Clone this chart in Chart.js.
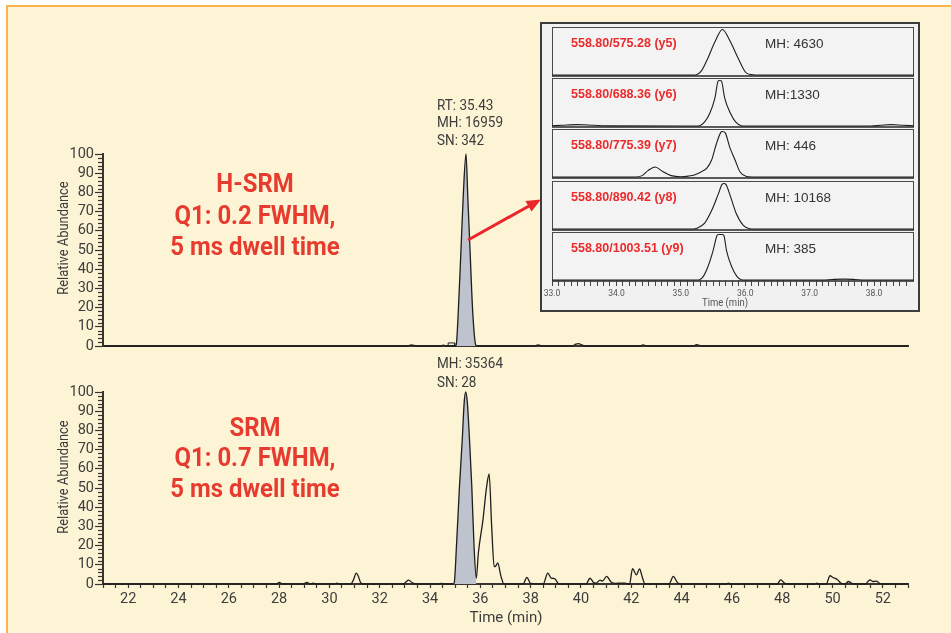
<!DOCTYPE html>
<html><head><meta charset="utf-8">
<script src="https://cdn.jsdelivr.net/npm/chart.js@4.4.1/dist/chart.umd.min.js"></script>
<style>
html,body{margin:0;padding:0;background:#fff;}
#root{position:relative;width:951px;height:633px;overflow:hidden;background:#fff;}
#frame{position:absolute;left:6px;top:5px;right:0;bottom:0;background:#fdf3d5;border-left:2px solid #f9b54c;border-top:2px solid #f9b54c;}
canvas{position:absolute;}
.t{position:absolute;white-space:nowrap;font-family:Roboto,'Liberation Sans',sans-serif;color:#3d3d3d;line-height:1;}
.red{color:#e63b2e;font-weight:bold;font-size:26px;transform:translate(-50%,-50%) scaleX(0.92);}
.ann{font-size:15px;transform-origin:0 50%;transform:translateY(-50%) scaleX(0.9);}
.rot{font-size:15px;transform:translate(-50%,-50%) rotate(-90deg) scaleX(0.86);}
.panel{position:absolute;left:552px;width:362px;height:50px;box-sizing:border-box;border:1px solid #4a4a4a;border-bottom:2px solid #5a5a5a;background:#f3f3f4;}
.plab{position:absolute;font-family:'Liberation Sans',Arial,sans-serif;font-weight:bold;font-size:12.5px;color:#ec2a2a;transform:translateY(-50%);white-space:nowrap;}
.pmh{position:absolute;font-family:'Liberation Sans',Arial,sans-serif;font-size:13.5px;color:#333;transform:translateY(-50%);white-space:nowrap;}
</style></head>
<body>
<div id="root">
  <div id="frame"></div>
  <canvas id="cTop" width="951" height="230" style="left:0;top:130px;"></canvas>
  <canvas id="cBot" width="951" height="253" style="left:0;top:380px;"></canvas>
  <div style="position:absolute;left:540px;top:22px;width:380px;height:290px;box-sizing:border-box;background:#f1f1f2;border:2px solid #3c3c3c;"></div>
  <div id="insetHolder"></div>
  <div class="t rot" style="left:63px;top:238px;">Relative Abundance</div>
  <div class="t rot" style="left:63px;top:477px;">Relative Abundance</div>
  <div class="t red" style="left:255px;top:183px;">H-SRM</div>
  <div class="t red" style="left:255px;top:215px;">Q1: 0.2 FWHM,</div>
  <div class="t red" style="left:255px;top:246px;">5 ms dwell time</div>
  <div class="t red" style="left:255px;top:427px;">SRM</div>
  <div class="t red" style="left:255px;top:457px;">Q1: 0.7 FWHM,</div>
  <div class="t red" style="left:255px;top:488px;">5 ms dwell time</div>
  <div class="t ann" style="left:437px;top:105px;">RT: 35.43</div>
  <div class="t ann" style="left:437px;top:122px;">MH: 16959</div>
  <div class="t ann" style="left:437px;top:140px;">SN: 342</div>
  <div class="t ann" style="left:437px;top:363px;">MH: 35364</div>
  <div class="t ann" style="left:437px;top:382px;">SN: 28</div>
  <div class="t" style="left:506px;top:617px;font-size:15px;transform:translate(-50%,-50%);">Time (min)</div>
  <div class="t" style="left:725px;top:303px;font-size:10.5px;color:#555;transform:translate(-50%,-50%) scaleX(0.9);">Time (min)</div>
  <svg width="951" height="633" style="position:absolute;left:0;top:0;pointer-events:none;">
    <line x1="468" y1="240" x2="529" y2="206" stroke="#e8262b" stroke-width="3"/>
    <polygon points="541,199.5 531.5,211.5 525.5,201" fill="#e8262b"/>
  </svg>
</div>
<script>
// ---------- data ----------
const xTickLabels = [22, 24, 26, 28, 30, 32, 34, 36, 38, 40, 42, 44, 46, 48, 50, 52];
const yTickLabels = [0, 10, 20, 30, 40, 50, 60, 70, 80, 90, 100];
const insetTickLabels = [33.0, 34.0, 35.0, 36.0, 37.0, 38.0];

// H-SRM trace (time, relative abundance)
const hsrmTime = [21, 33.1, 33.27, 33.45, 34.4, 34.53, 34.65, 35.0, 35.04, 35.12,
  35.23, 35.32, 35.43, 35.50, 35.59, 35.70, 35.82, 35.9,
  38.15, 38.3, 38.45, 39.65, 39.8, 39.9, 40.05, 40.15,
  42.35, 42.47, 42.6, 44.45, 44.6, 44.8, 53];
const hsrmAbund = [0, 0, 0.6, 0, 0, 0.5, 0, 0, 0.5, 17,
  50, 78, 100, 78, 50, 17, 0.5, 0,
  0, 0.6, 0, 0, 1.0, 1.2, 0.5, 0,
  0, 0.6, 0, 0, 0.7, 0, 0];
const hsrmPeakWindow = [35.0, 35.9];
const hsrmMarkTime = [34.72, 34.72, 34.98, 34.98];
const hsrmMarkAbund = [0, 1.6, 1.6, 0];

// SRM trace
const srmTime = [
  21, 27.9, 28.0, 28.15, 28.95, 29.1, 29.25, 29.35, 29.5,
  30.2, 30.3, 30.4,
  30.85, 30.95, 31.07, 31.15, 31.25, 31.35,
  32.95, 33.05, 33.15, 33.3, 33.45,
  34.35, 34.45, 34.55,
  34.9, 34.96, 35.05, 35.17, 35.28, 35.36, 35.42, 35.48, 35.57, 35.66, 35.75, 35.84,
  35.92, 36.1, 36.25, 36.35, 36.45, 36.55, 36.62, 36.69, 36.82, 36.94,
  37.7, 37.85, 38.0,
  38.5, 38.68, 38.82, 38.95, 39.1, 39.2,
  40.2, 40.36, 40.5, 40.6, 40.76, 40.85, 41.02, 41.2, 41.35, 41.6, 41.75,
  41.93, 42.05, 42.2, 42.33, 42.45, 42.55,
  43.5, 43.67, 43.85, 44.0,
  45.78, 45.86, 45.95,
  47.8, 47.94, 48.1, 48.2,
  49.3, 49.37, 49.45,
  49.75, 49.9, 50.0, 50.2, 50.35, 50.5, 50.63, 50.75, 50.85,
  51.3, 51.49, 51.6, 51.75, 51.85, 51.95, 53];
const srmAbund = [
  0, 0, 0.8, 0, 0, 0.8, 0, 0.5, 0,
  0, 0.4, 0,
  0, 2, 5.7, 4, 0.5, 0,
  0, 1.2, 2, 0.6, 0,
  0, 0.3, 0,
  0, 0.5, 19.5, 50.7, 75, 95, 100, 95, 75, 50.7, 19.5, 3,
  16, 33, 50.7, 57.3, 30, 9, 9.5, 11, 4, 0,
  0, 3.4, 0.3,
  0, 5.7, 3, 2.8, 0.3, 0,
  0, 3, 0.8, 0.5, 2, 1.5, 4, 1, 0.3, 0.5, 0.5,
  0, 8, 4.8, 7.8, 3, 0,
  0, 4, 0.5, 0,
  0, 0.5, 0,
  0, 2.2, 0.3, 0,
  0, 0.4, 0,
  0, 4.3, 3.5, 2.2, 0.3, 0, 1.3, 0.5, 0,
  0, 2.2, 1.3, 1.5, 0.5, 0, 0];
const srmPeakWindow = [34.9, 35.84];

// Inset transitions
const insetLabels = ['558.80/575.28 (y5)', '558.80/688.36 (y6)', '558.80/775.39 (y7)', '558.80/890.42 (y8)', '558.80/1003.51 (y9)'];
const insetMH = ['MH: 4630', 'MH:1330', 'MH: 446', 'MH: 10168', 'MH: 385'];
const y5Time = [33.0, 35.2, 35.24, 35.32, 35.42, 35.53, 35.645, 35.77, 35.89, 36.02, 36.12, 36.2, 38.62];
const y5Abund = [0, 0, 0.5, 9, 37, 73, 100, 73, 37, 4, 0.5, 0, 0];
const y6Time = [33.0, 33.15, 33.4, 33.65, 33.9, 35.25, 35.29, 35.37, 35.45, 35.53, 35.58, 35.605, 35.63, 35.68, 35.77, 35.85, 35.94, 36.0, 37.95, 38.1, 38.27, 38.45, 38.62];
const y6Abund = [0.5, 1.5, 3, 1.5, 0.3, 0, 0.5, 9, 28, 62, 99, 100, 99, 62, 28, 9, 0.5, 0, 0, 1.5, 3, 1.5, 0.5];
const y7Time = [33.0, 34.3, 34.4, 34.49, 34.6, 34.72, 34.85, 35.0, 35.12, 35.22, 35.32, 35.40, 35.48, 35.55, 35.62, 35.645, 35.69, 35.76, 35.84, 35.92, 36.02, 36.1, 38.62];
const y7Abund = [0, 0, 3, 14, 22, 12, 3, 0.5, 2, 5, 11.6, 19, 38, 72, 98, 100, 97, 65, 38, 11, 1, 0, 0];
const y8Time = [33.0, 35.2, 35.24, 35.37, 35.48, 35.58, 35.64, 35.67, 35.7, 35.76, 35.86, 35.97, 36.07, 36.15, 38.62];
const y8Abund = [0, 0, 1, 13, 41, 76, 98, 100, 98, 76, 34, 8, 0.5, 0, 0];
const y9Time = [33.0, 35.25, 35.29, 35.35, 35.42, 35.50, 35.56, 35.58, 35.645, 35.67, 35.71, 35.79, 35.87, 35.94, 36.0, 37.2, 37.35, 37.52, 37.7, 37.85, 38.62];
const y9Abund = [0, 0, 0.5, 8, 29, 64, 97, 100, 100, 97, 64, 29, 8, 0.5, 0, 0, 1.2, 2, 1.2, 0, 0];

// ---------- drawing ----------
const ROBOTO = "Roboto,'Liberation Sans',sans-serif";
Chart.defaults.font.family = ROBOTO;
Chart.defaults.color = '#3d3d3d';
const AX = '#3a3431';

function pts(T, Y) { return T.map((t, i) => ({ x: t, y: Y[i] })); }

const minorY = {
  id: 'minorY',
  afterDraw(chart) {
    const y = chart.scales.y, ctx = chart.ctx, x0 = chart.chartArea.left;
    ctx.save(); ctx.strokeStyle = AX; ctx.lineWidth = 1.2;
    for (let v = 2; v < 100; v += 2) {
      if (v % 10 === 0) continue;
      const py = Math.round(y.getPixelForValue(v)) + 0.5;
      ctx.beginPath(); ctx.moveTo(x0 - 5, py); ctx.lineTo(x0, py); ctx.stroke();
    }
    ctx.restore();
  }
};

function mainChart(id, T, Y, win, mark, showX, pad) {
  const trace = pts(T, Y);
  const area = trace.filter(p => p.x >= win[0] && p.x <= win[1]);
  const datasets = [
    { data: area, fill: 'origin', backgroundColor: '#bfc3cd', borderWidth: 0, pointRadius: 0, cubicInterpolationMode: 'monotone', order: 3, clip: false },
    { data: trace, fill: false, borderColor: '#1e1e1e', borderWidth: 1.3, pointRadius: 0, cubicInterpolationMode: 'monotone', order: 1, clip: false }
  ];
  if (mark) datasets.push({ data: pts(mark[0], mark[1]), fill: false, borderColor: '#1e1e1e', borderWidth: 1, pointRadius: 0, tension: 0, order: 2, clip: false });
  return new Chart(document.getElementById(id), {
    type: 'line',
    data: { datasets },
    options: {
      responsive: false, animation: false, events: [],
      layout: { padding: pad },
      plugins: { legend: { display: false }, tooltip: { enabled: false } },
      scales: {
        x: {
          type: 'linear', min: 21, max: 53,
          afterFit: s => { s.height = showX ? 30 : 0; },
          ticks: { display: showX, stepSize: 0.5, autoSkip: false, maxRotation: 0, minRotation: 0, padding: 3,
                   font: { size: 14.5 }, color: '#3d3d3d',
                   callback: v => xTickLabels.includes(v) ? String(v) : '' },
          grid: { drawOnChartArea: false, drawTicks: showX, tickLength: 4, tickColor: AX, tickWidth: 1.2 },
          border: { display: true, color: AX, width: 2 }
        },
        y: {
          min: 0, max: 100,
          afterFit: s => { s.width = 103; },
          afterBuildTicks: s => { s.ticks = yTickLabels.map(v => ({ value: v })); },
          ticks: { autoSkip: false, padding: 1, font: { size: 14.5 }, color: '#3d3d3d' },
          grid: { drawOnChartArea: false, tickLength: 8, tickColor: AX, tickWidth: 1.2 },
          border: { color: AX, width: 2 }
        }
      }
    },
    plugins: [minorY]
  });
}

mainChart('cTop', hsrmTime, hsrmAbund, hsrmPeakWindow, [hsrmMarkTime, hsrmMarkAbund], false, { left: 0, right: 43, top: 24, bottom: 14 });
mainChart('cBot', srmTime, srmAbund, srmPeakWindow, null, true, { left: 0, right: 43, top: 12, bottom: 19 });

// inset panels
const panelTops = [27, 78, 129, 181, 232];
const insetSeries = [[y5Time, y5Abund], [y6Time, y6Abund], [y7Time, y7Abund], [y8Time, y8Abund], [y9Time, y9Abund]];
const holder = document.getElementById('insetHolder');
panelTops.forEach((top, i) => {
  const p = document.createElement('div');
  p.className = 'panel'; p.style.top = top + 'px';
  holder.appendChild(p);
  const last = i === panelTops.length - 1;
  const cv = document.createElement('canvas');
  if (last) { cv.width = 402; cv.height = 80; cv.style.left = '532px'; }
  else { cv.width = 362; cv.height = 50; cv.style.left = '552px'; }
  cv.style.top = top + 'px';
  holder.appendChild(cv);
  const lab = document.createElement('div');
  lab.className = 'plab'; lab.style.left = '571px'; lab.style.top = (top + 16) + 'px'; lab.textContent = insetLabels[i];
  holder.appendChild(lab);
  const mh = document.createElement('div');
  mh.className = 'pmh'; mh.style.left = '765px'; mh.style.top = (top + 16) + 'px'; mh.textContent = insetMH[i];
  holder.appendChild(mh);
  const xScale = {
    type: 'linear', min: 33.0, max: 38.62, display: last,
    afterBuildTicks: s => { s.ticks = s.ticks.filter(t => Math.abs(t.value * 10 - Math.round(t.value * 10)) < 1e-6); },
    ticks: { stepSize: 0.1, autoSkip: false, maxRotation: 0, minRotation: 0, padding: 3,
             font: { size: 8.5 }, color: '#555',
             callback: v => insetTickLabels.some(l => Math.abs(l - v) < 1e-6) ? v.toFixed(1) : '' },
    grid: { drawOnChartArea: false, tickLength: 6, tickColor: '#444', tickWidth: 1 },
    border: { display: false }
  };
  if (last) xScale.afterFit = s => { s.height = 32; };
  new Chart(cv, {
    type: 'line',
    data: { datasets: [{ data: pts(insetSeries[i][0], insetSeries[i][1]), fill: false, borderColor: '#1e1e1e', borderWidth: 1.1, pointRadius: 0, cubicInterpolationMode: 'monotone', clip: false }] },
    options: {
      responsive: false, animation: false, events: [],
      layout: { padding: last ? { left: 20, right: 20, top: 2, bottom: 0 } : { left: 0, right: 0, top: 2, bottom: 2 } },
      plugins: { legend: { display: false }, tooltip: { enabled: false } },
      scales: {
        x: xScale,
        y: { min: 0, max: 101, display: false }
      }
    }
  });
});
</script>
</body></html>
